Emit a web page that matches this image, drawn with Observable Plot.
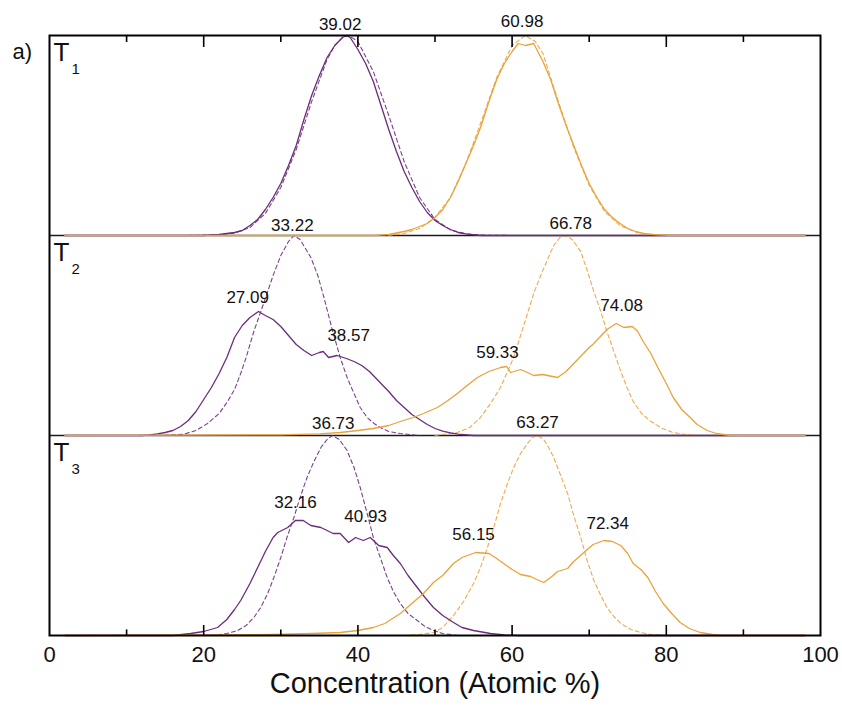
<!DOCTYPE html>
<html>
<head>
<meta charset="utf-8">
<script src="https://cdn.jsdelivr.net/npm/d3@7"></script>
<script src="https://cdn.jsdelivr.net/npm/@observablehq/plot@0.6"></script>
<style>
  html, body { margin: 0; padding: 0; background: #fff; }
  #chart svg { display: block; }
</style>
</head>
<body>
<div id="chart"></div>
<script>
// ---------- data ----------
const panelNames = ["T", "T", "T"];
const panelSubs = ["1", "2", "3"];
const panelOffsets = [2, 1, 0]; // stacking level of each panel (T1 top)

const xTickLabels = [0, 20, 40, 60, 80, 100];
const xMajorTicks = [20, 40, 60, 80];
const xMinorTicks = [10, 30, 50, 70, 90];

// T1
const t1PurpleSolid = [[2,0],[20,0],[22,0.005],[24,0.015],[25,0.025],[26,0.05],[27,0.08],[28,0.13],[29,0.19],[30,0.26],[31,0.35],[32,0.45],[33,0.58],[34,0.70],[35,0.80],[36,0.89],[37,0.95],[38,0.99],[38.5,1.0],[39,0.99],[40,0.93],[41,0.86],[42,0.77],[43,0.65],[44,0.53],[45,0.42],[46,0.32],[47,0.24],[48,0.17],[49,0.115],[50,0.075],[51,0.05],[52,0.03],[53,0.015],[54,0.008],[56,0],[98,0]];
const t1PurpleFit = [[18,0],[22,0.004],[24,0.012],[26,0.04],[28,0.11],[30,0.24],[32,0.43],[34,0.67],[36,0.88],[37,0.95],[38,0.99],[38.8,1.0],[40,0.97],[42,0.82],[44,0.60],[46,0.37],[48,0.19],[50,0.08],[52,0.028],[54,0.008],[56,0.002],[60,0]];
const t1OrangeSolid = [[2,0],[42,0],[44,0.005],[46,0.02],[47,0.03],[48,0.045],[49,0.06],[50,0.09],[51,0.13],[52,0.19],[53,0.27],[54,0.36],[55,0.45],[56,0.55],[57,0.67],[58,0.78],[59,0.86],[60,0.92],[60.8,0.96],[61.7,0.95],[62.8,0.96],[64,0.87],[65,0.78],[66,0.66],[67,0.55],[68,0.45],[69,0.35],[70,0.26],[71,0.19],[72,0.13],[73,0.09],[74,0.06],[75,0.035],[76,0.02],[77,0.01],[79,0.003],[81,0],[98,0]];
const t1OrangeFit = [[44,0],[46,0.01],[48,0.035],[50,0.09],[52,0.19],[54,0.36],[56,0.57],[58,0.79],[60,0.95],[61.7,1.0],[63,0.97],[64,0.91],[66,0.67],[68,0.44],[70,0.25],[72,0.12],[74,0.05],[76,0.018],[78,0.005],[80,0]];

// T2
const t2PurpleSolid = [[2,0],[12,0],[13,0.003],[14,0.008],[15,0.015],[16,0.025],[17,0.045],[18,0.075],[19,0.12],[20,0.18],[21,0.24],[22,0.31],[23,0.39],[24,0.49],[25,0.55],[26,0.59],[27.1,0.62],[28,0.60],[29,0.58],[30,0.545],[31,0.5],[32,0.455],[33,0.425],[34,0.40],[35,0.415],[35.5,0.42],[36.2,0.39],[37.3,0.40],[38.5,0.385],[39.5,0.37],[40.5,0.35],[41.5,0.32],[42,0.30],[43,0.26],[44,0.22],[45,0.175],[46,0.14],[47,0.105],[48,0.08],[49,0.055],[50,0.035],[51,0.022],[52,0.013],[53,0.007],[55,0],[98,0]];
const t2PurpleFit = [[14,0],[16,0.003],[17.4,0.006],[19,0.025],[20.5,0.06],[22,0.11],[23.1,0.17],[24,0.23],[24.8,0.31],[25.5,0.39],[26.5,0.52],[27.5,0.63],[28.3,0.72],[29,0.80],[30,0.90],[31,0.97],[31.7,1.0],[32.5,0.98],[33.9,0.89],[34.8,0.80],[35.6,0.69],[36.6,0.54],[37.7,0.39],[38.6,0.29],[39.5,0.21],[40.3,0.14],[41.2,0.09],[42.1,0.06],[42.9,0.04],[44,0.02],[45.5,0.01],[48,0]];
const t2OrangeSolid = [[2,0],[30,0.003],[35,0.008],[37.7,0.015],[40,0.025],[42,0.035],[44,0.05],[45.5,0.07],[47.2,0.09],[48.5,0.11],[50.3,0.14],[51.5,0.17],[52.9,0.21],[54,0.245],[55.5,0.29],[57,0.32],[58.5,0.34],[59.3,0.345],[59.8,0.315],[61.1,0.33],[62,0.315],[62.8,0.30],[64,0.305],[64.6,0.30],[65.9,0.29],[67,0.32],[68,0.36],[69,0.40],[70,0.44],[70.6,0.46],[72.3,0.53],[73.5,0.56],[74.5,0.54],[75.6,0.545],[76.3,0.52],[77,0.47],[78,0.41],[78.9,0.34],[80,0.26],[80.9,0.19],[82,0.13],[83.1,0.09],[84,0.055],[85.3,0.025],[86.5,0.01],[88.3,0],[98,0]];
const t2OrangeFit = [[50,0],[52.9,0.015],[54.5,0.04],[55.9,0.09],[57.2,0.16],[58.5,0.24],[59.3,0.31],[60.2,0.39],[61.1,0.5],[62,0.61],[62.8,0.71],[63.7,0.80],[64.6,0.88],[65.4,0.95],[66.2,0.99],[66.9,1.0],[67.8,0.98],[68.9,0.92],[69.7,0.83],[70.6,0.72],[71.5,0.62],[72.3,0.52],[73.2,0.42],[74.1,0.32],[74.9,0.24],[75.7,0.17],[76.8,0.11],[78,0.07],[79.5,0.035],[80.9,0.015],[82.5,0.005],[84,0]];

// T3
const t3PurpleSolid = [[2,0],[16,0],[18.3,0.01],[20,0.02],[21.8,0.04],[23,0.08],[24,0.13],[24.8,0.175],[26,0.26],[27,0.34],[28,0.42],[29,0.49],[29.6,0.515],[30.9,0.54],[31.9,0.575],[32.9,0.575],[33.9,0.55],[35.2,0.54],[36,0.525],[36.8,0.51],[37.7,0.51],[38.8,0.465],[39.7,0.49],[40.7,0.475],[41.6,0.49],[42.7,0.45],[43.8,0.44],[44.6,0.40],[45.5,0.36],[46.5,0.30],[47.7,0.24],[48.7,0.19],[49.8,0.14],[51,0.10],[52.4,0.065],[53.5,0.04],[55,0.025],[57.2,0.01],[59,0.003],[61,0],[98,0]];
const t3PurpleFit = [[20,0],[21.8,0.003],[23,0.01],[24.4,0.025],[25.5,0.05],[26.5,0.09],[27.4,0.14],[28.3,0.21],[29.1,0.29],[30,0.39],[30.8,0.49],[31.7,0.59],[32.5,0.69],[33.4,0.79],[34.3,0.87],[35.2,0.94],[36,0.98],[36.7,1.0],[37.6,0.98],[38.6,0.925],[39.5,0.84],[40.3,0.74],[41.2,0.61],[42,0.49],[42.9,0.39],[43.8,0.29],[44.6,0.22],[45.5,0.16],[46.5,0.11],[47.7,0.075],[48.7,0.045],[49.8,0.025],[51,0.01],[53,0]];
const t3OrangeSolid = [[2,0],[22,0.003],[29.1,0.005],[34,0.01],[37.7,0.015],[40,0.025],[42,0.04],[43.5,0.06],[45.5,0.11],[47,0.16],[48.5,0.21],[49.8,0.265],[51,0.30],[52.4,0.36],[53.5,0.39],[55.3,0.415],[57,0.41],[58,0.385],[58.9,0.36],[60,0.33],[61.1,0.305],[62.4,0.295],[63.2,0.28],[64.1,0.265],[65,0.29],[65.9,0.32],[67.2,0.335],[68,0.37],[69.3,0.415],[70.5,0.455],[71.9,0.475],[73,0.47],[74.1,0.45],[75,0.41],[75.7,0.36],[76.7,0.33],[77.6,0.29],[78.6,0.22],[79.6,0.16],[80.7,0.11],[81.8,0.065],[83,0.035],[84.4,0.015],[86,0.005],[87,0],[98,0]];
const t3OrangeFit = [[46,0],[48,0.005],[49.8,0.015],[51,0.04],[52.4,0.10],[53.7,0.17],[55,0.26],[55.9,0.34],[56.8,0.44],[57.7,0.55],[58.5,0.66],[59.4,0.76],[60.2,0.84],[61.1,0.91],[62,0.96],[62.6,0.99],[63.3,1.0],[64.1,0.98],[64.6,0.95],[65.4,0.89],[66.3,0.80],[67.2,0.71],[68,0.60],[68.9,0.49],[69.7,0.38],[70.6,0.275],[71.5,0.2],[72.3,0.14],[73.2,0.095],[74.1,0.06],[75.4,0.03],[76.7,0.015],[78,0.005],[80,0]];

// peak annotations: panel index, text, anchor in data units
const peakLabels = ["39.02","60.98","33.22","66.78","27.09","38.57","59.33","74.08","36.73","63.27","32.16","40.93","56.15","72.34"];
const peakPanels = [0,0,1,1,1,1,1,1,2,2,2,2,2,2];
const peakX = [37.7,61.3,31.5,67.6,25.7,38.8,58.1,74.2,36.8,63.3,31.9,41.0,55.0,72.4];
const peakY = [1.055,1.07,1.05,1.06,0.69,0.5,0.415,0.65,1.06,1.065,0.665,0.595,0.505,0.56];

// ---------- build tables ----------
const PURPLE = "#6b2c7c";
const ORANGE = "#eaa23a";
function rows(points, panel) {
  return points.map(([x, v]) => ({x, y: v + panelOffsets[panel], panel}));
}
const purpleSolid = [t1PurpleSolid, t2PurpleSolid, t3PurpleSolid].flatMap((p, i) => rows(p, i));
const purpleFit = [t1PurpleFit, t2PurpleFit, t3PurpleFit].flatMap((p, i) => rows(p, i));
const orangeSolid = [t1OrangeSolid, t2OrangeSolid, t3OrangeSolid].flatMap((p, i) => rows(p, i));
const orangeFit = [t1OrangeFit, t2OrangeFit, t3OrangeFit].flatMap((p, i) => rows(p, i));
const labels = peakLabels.map((t, i) => ({text: t, x: peakX[i], y: peakY[i] + panelOffsets[peakPanels[i]]}));
const panels = panelNames.map((n, i) => ({name: n, sub: panelSubs[i], top: panelOffsets[i] + 1}));

const FONT = "'Liberation Sans', Arial, Helvetica, sans-serif";

const chart = Plot.plot({
  width: 842,
  height: 720,
  marginTop: 35,
  marginBottom: 85,
  marginLeft: 49,
  marginRight: 22,
  style: {fontFamily: FONT, background: "#fff", color: "#111"},
  x: {domain: [0, 100], axis: null},
  y: {domain: [0, 3], axis: null},
  marks: [
    // panel separators
    Plot.ruleY([1, 2], {stroke: "#1a1a1a", strokeWidth: 1.6}),
    // fitted (dashed) curves
    Plot.line(purpleFit, {x: "x", y: "y", z: "panel", stroke: PURPLE, strokeWidth: 1.1, strokeDasharray: "4,3", strokeOpacity: 0.9}),
    Plot.line(orangeFit, {x: "x", y: "y", z: "panel", stroke: ORANGE, strokeWidth: 1.1, strokeDasharray: "4,3", strokeOpacity: 0.9}),
    // measured (solid) curves
    Plot.line(purpleSolid, {x: "x", y: "y", z: "panel", stroke: PURPLE, strokeWidth: 1.3}),
    Plot.line(orangeSolid, {x: "x", y: "y", z: "panel", stroke: ORANGE, strokeWidth: 1.3}),
    // frame
    Plot.frame({stroke: "#000", strokeWidth: 2}),
    // inward ticks: bottom and top
    Plot.ruleX(xMajorTicks, {x: d => d, y1: 0, y2: 0.05, stroke: "#000", strokeWidth: 1.6}),
    Plot.ruleX(xMinorTicks, {x: d => d, y1: 0, y2: 0.028, stroke: "#000", strokeWidth: 1.6}),
    Plot.ruleX(xMajorTicks, {x: d => d, y1: 3, y2: 2.94, stroke: "#000", strokeWidth: 1.6}),
    Plot.ruleX(xMinorTicks, {x: d => d, y1: 3, y2: 2.965, stroke: "#000", strokeWidth: 1.6}),
    // x tick labels
    Plot.text(xTickLabels, {x: d => d, frameAnchor: "bottom", dy: 26, text: d => String(d), fontSize: 22, fill: "#111"}),
    // axis title
    Plot.text(["Concentration (Atomic %)"], {frameAnchor: "bottom", dy: 57, fontSize: 29, fill: "#111"}),
    // peak labels
    Plot.text(labels, {x: "x", y: "y", text: "text", fontSize: 17, fill: "#111"}),
    // panel labels with subscripts
    Plot.text(panels, {x: 0, y: "top", text: "name", textAnchor: "start", lineAnchor: "top", dx: 4, dy: 7, fontSize: 26, fill: "#111"}),
    Plot.text(panels, {x: 0, y: "top", text: "sub", textAnchor: "start", lineAnchor: "top", dx: 22, dy: 28, fontSize: 15, fill: "#111"}),
    // figure letter
    Plot.text(["a)"], {frameAnchor: "top-left", textAnchor: "start", dx: -37, dy: 8, fontSize: 22, fill: "#111"})
  ]
});
document.getElementById("chart").appendChild(chart);
</script>
</body>
</html>
